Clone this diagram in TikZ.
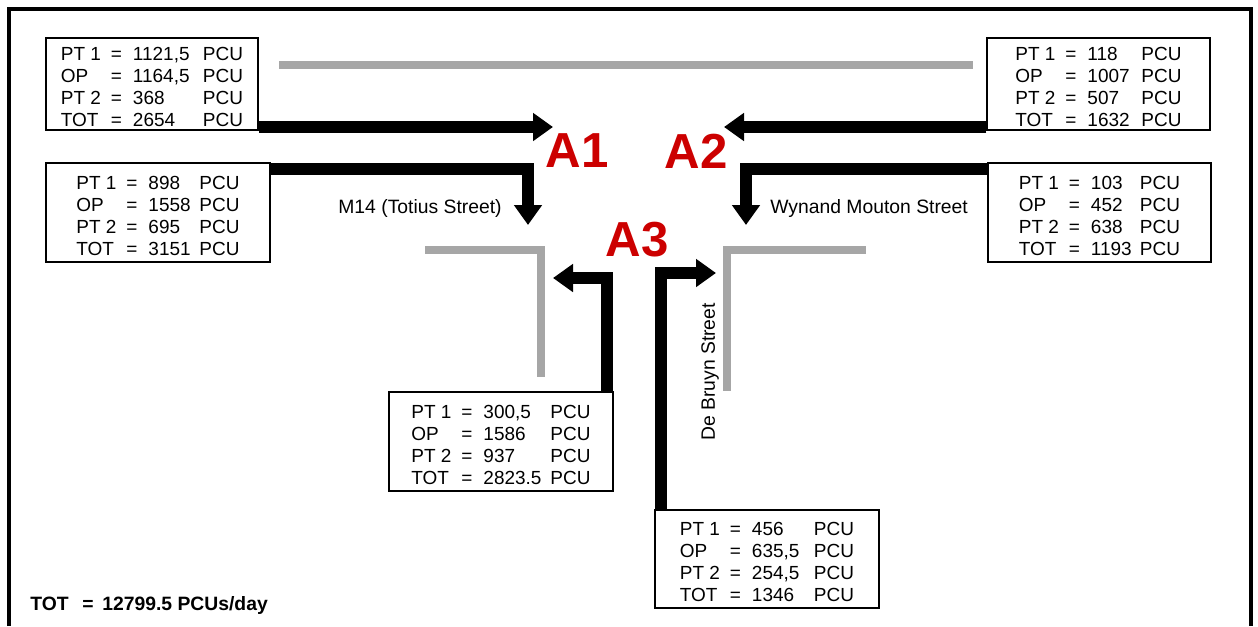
\documentclass[tikz,border=0pt]{standalone}
\usepackage{fontspec}
\setmainfont{Liberation Sans}
\usepackage{xcolor}
\usetikzlibrary{arrows.meta}
\definecolor{roadgrey}{HTML}{A6A6A6}
\definecolor{junctred}{HTML}{CC0000}
\newdimen\pxl \pxl=0.02cm
% four rows of one count box: value column width (px), PT 1, OP, PT 2, TOT
\newcommand{\pcurows}[5]{%
  \rule{0pt}{20\pxl}\makebox[50\pxl][l]{PT 1}\makebox[22\pxl][l]{=}\makebox[#1\pxl][l]{#2}PCU\\
  \makebox[50\pxl][l]{OP}\makebox[22\pxl][l]{=}\makebox[#1\pxl][l]{#3}PCU\\
  \makebox[50\pxl][l]{PT 2}\makebox[22\pxl][l]{=}\makebox[#1\pxl][l]{#4}PCU\\
  \makebox[50\pxl][l]{TOT}\makebox[22\pxl][l]{=}\makebox[#1\pxl][l]{#5}PCU}

\begin{document}
\begin{tikzpicture}[x=0.02cm,y=-0.02cm,
  flowbox/.style={draw,line width=0.8pt,align=left,inner sep=0pt,
    font=\fontsize{10.8}{12.5}\selectfont},
  flow/.style={line width=0.24cm,line join=miter,
    -{Triangle[length=0.4cm,width=0.54cm]}},
  road/.style={roadgrey,line width=0.16cm,line join=miter},
  junction/.style={junctred,inner sep=0pt,
    font=\fontsize{28}{30}\selectfont\bfseries},
  street/.style={inner sep=0pt,font=\fontsize{11}{13}\selectfont}]
  \useasboundingbox (0,0) rectangle (1258,626);
  \draw[line width=0.08cm] (9,626) -- (9,9) -- (1251,9) -- (1251,626);

  % roads
  \draw[road] (279,65) -- (973,65);
  \draw[road] (425,250) -- (541,250) -- (541,377);
  \draw[road] (866,250) -- (727,250) -- (727,391);

  % count boxes
  \node[flowbox,minimum width=4.24cm,minimum height=1.84cm] (tl) at (152,84)
    {\pcurows{70}{1121,5}{1164,5}{368}{2654}};
  \node[flowbox,minimum width=4.46cm,minimum height=1.84cm] (tr) at (1098.5,84)
    {\pcurows{54}{118}{1007}{507}{1632}};
  \node[flowbox,minimum width=4.48cm,minimum height=1.98cm] (lm) at (158,212.5)
    {\pcurows{51}{898}{1558}{695}{3151}};
  \node[flowbox,minimum width=4.46cm,minimum height=1.98cm] (rm) at (1099.5,212.5)
    {\pcurows{49}{103}{452}{638}{1193}};
  \node[flowbox,minimum width=4.48cm,minimum height=1.98cm] (cb) at (501,441.5)
    {\pcurows{67}{300,5}{1586}{937}{2823.5}};
  \node[flowbox,minimum width=4.48cm,minimum height=1.96cm] (br) at (767,559)
    {\pcurows{62}{456}{635,5}{254,5}{1346}};

  % turning flows
  \coordinate (a1tip) at (553,127);
  \coordinate (a2bend) at (528,169);
  \coordinate (a2tip) at (528,225);
  \coordinate (b1tip) at (724,127);
  \coordinate (b2bend) at (746,169);
  \coordinate (b2tip) at (746,225);
  \coordinate (c1bend) at (607,278);
  \coordinate (c1tip) at (553,278);
  \coordinate (c2bend) at (661,273);
  \coordinate (c2tip) at (716,273);
  \draw[flow] (tl.east |- a1tip) -- (a1tip);
  \draw[flow] (lm.east |- a2bend) -- (a2bend) -- (a2tip);
  \draw[flow] (tr.west |- b1tip) -- (b1tip);
  \draw[flow] (rm.west |- b2bend) -- (b2bend) -- (b2tip);
  \draw[flow] (cb.north -| c1bend) -- (c1bend) -- (c1tip);
  \draw[flow] (br.north -| c2bend) -- (c2bend) -- (c2tip);

  % junctions and streets
  \node[junction] (a1) at (577,151) {A1};
  \node[junction] (a2) at (696,151) {A2};
  \node[junction] (a3) at (637,240) {A3};
  \node[street,anchor=east] (totius) at (502,208) {M14 (Totius Street)};
  \node[street,anchor=west] (mouton) at (770,208) {Wynand Mouton Street};
  \node[street,rotate=90] (bruyn) at (710,372) {De Bruyn Street};

  \node[anchor=west,inner sep=0pt,font=\fontsize{11}{13}\selectfont\bfseries]
    (total) at (30,605)
    {\makebox[52\pxl][l]{TOT}\makebox[20\pxl][l]{=}12799.5 PCUs/day};
\end{tikzpicture}
\end{document}
